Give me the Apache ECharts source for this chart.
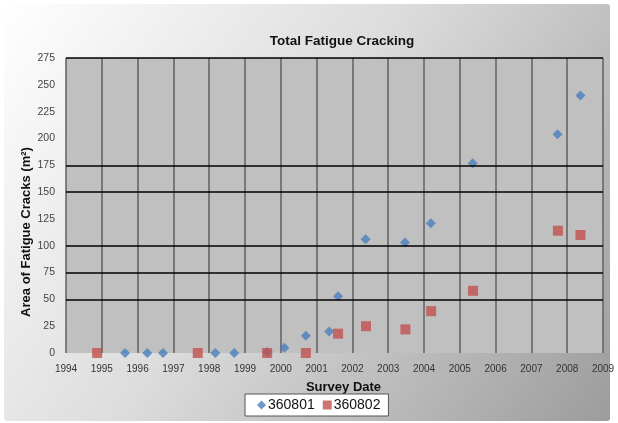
<!DOCTYPE html>
<html>
<head>
<meta charset="utf-8">
<script src="https://cdn.jsdelivr.net/npm/echarts@6/dist/echarts.min.js"></script>
<style>
html,body{margin:0;padding:0;background:#fff;}
#c{width:618px;height:423px;}
</style>
</head>
<body>
<div id="c"></div>
<script>
var title = 'Total Fatigue Cracking';
var xName = 'Survey Date';
var yName = 'Area of Fatigue Cracks (m²)';
var seriesNames = ['360801', '360802'];
var dates801 = [1995.65, 1996.27, 1996.71, 1998.17, 1998.70, 1999.62, 2000.10, 2000.70, 2001.35, 2001.60, 2002.37, 2003.47, 2004.19, 2005.36, 2007.73, 2008.37];
var values801 = [0, 0, 0, 0, 0, 1, 5, 16, 20, 53, 106, 103, 121, 177, 204, 240];
var dates802 = [1994.87, 1997.68, 1999.62, 2000.70, 2001.60, 2002.38, 2003.48, 2004.20, 2005.37, 2007.74, 2008.37];
var values802 = [0, 0, 0, 0, 18, 25, 22, 39, 58, 114, 110];
var gridValues = [50, 75, 100, 150, 175, 275];

function pairs(xs, ys) { return xs.map(function (x, i) { return [x, ys[i]]; }); }

var chart = echarts.init(document.getElementById('c'), null, {renderer: 'canvas'});
var font = 'Liberation Sans, Arial, sans-serif';
chart.setOption({
  animation: false,
  backgroundColor: '#fff',
  graphic: [{
    type: 'rect', z: -10, silent: true,
    shape: {x: 4, y: 4, width: 606, height: 417, r: 3},
    style: {
      fill: {type: 'linear', x: 0, y: 0, x2: 1, y2: 1, colorStops: [
        {offset: 0, color: '#ffffff'}, {offset: 0.45, color: '#dcdcdc'}, {offset: 1, color: '#9c9c9c'}
      ]}
    }
  }, {
    type: 'text', x: 26, y: 232, rotation: Math.PI / 2, silent: true,
    style: {text: yName, textAlign: 'center', textVerticalAlign: 'middle',
      font: 'bold 13px Liberation Sans, Arial, sans-serif', fill: '#111'}
  }],
  title: {
    text: title, left: 337, top: 29, textAlign: 'center',
    textStyle: {fontFamily: font, fontSize: 13.5, fontWeight: 'bold', color: '#111'}
  },
  grid: {left: 66, right: 15, top: 58, bottom: 70, show: true, backgroundColor: '#c0c0c0', borderWidth: 0},
  xAxis: {
    type: 'value', min: 1994, max: 2009, interval: 1,
    name: xName, nameLocation: 'middle', nameGap: 28,
    nameTextStyle: {fontFamily: font, fontSize: 13, fontWeight: 'bold', color: '#111', padding: [0, 0, 0, 18]},
    axisLine: {show: false}, axisTick: {show: false},
    axisLabel: {fontFamily: font, fontSize: 10, color: '#333', margin: 11, formatter: function (v) { return String(v); }},
    splitLine: {show: true, lineStyle: {color: '#606060', width: 1.5}}
  },
  yAxis: {
    type: 'value', min: 0, max: 275, interval: 25,
    axisLine: {show: false}, axisTick: {show: false},
    axisLabel: {fontFamily: font, fontSize: 10.5, color: '#444', margin: 11},
    splitLine: {show: false}
  },
  legend: {
    left: 245, top: 394, itemWidth: 9, itemHeight: 9, itemGap: 8,
    padding: [4, 8, 4, 12],
    backgroundColor: '#fff', borderColor: '#555', borderWidth: 1,
    textStyle: {fontFamily: font, fontSize: 14, color: '#111', padding: [0, 0, 0, -3]},
    data: [{name: seriesNames[0], icon: 'diamond'}, {name: seriesNames[1], icon: 'rect'}]
  },
  series: [
    {
      name: seriesNames[0], type: 'scatter', symbol: 'diamond', symbolSize: 10, z: 3,
      itemStyle: {color: '#4a7ebb'},
      data: pairs(dates801, values801),
      markLine: {
        silent: true, symbol: 'none', label: {show: false},
        lineStyle: {color: '#000', width: 1.5, type: 'solid'},
        data: gridValues.map(function (v) { return {yAxis: v}; })
      }
    },
    {
      name: seriesNames[1], type: 'scatter', symbol: 'rect', symbolSize: 10, z: 4,
      itemStyle: {color: '#c0504d'},
      data: pairs(dates802, values802)
    }
  ]
});
</script>
</body>
</html>
